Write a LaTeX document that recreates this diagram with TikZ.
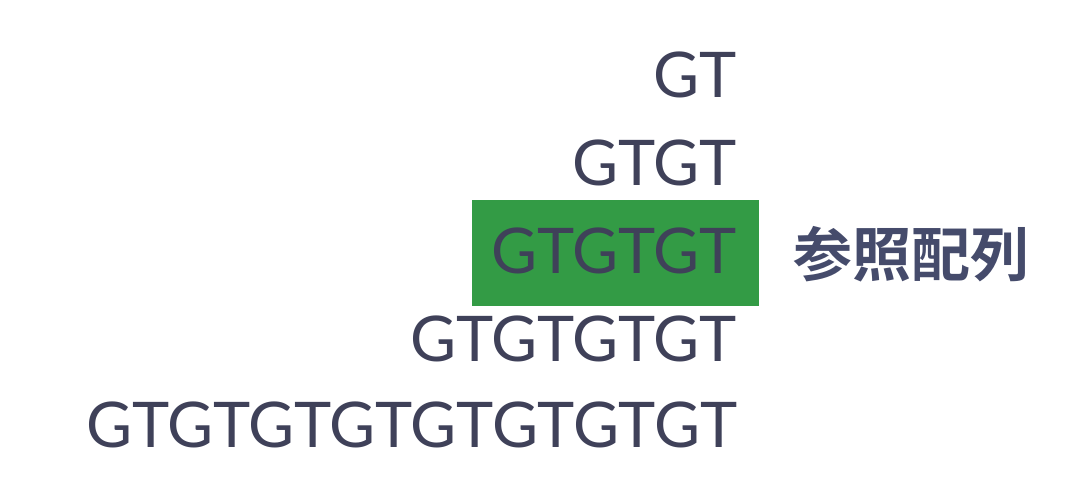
\documentclass[tikz,border=0pt]{standalone}
\usepackage{fontspec}
\setmainfont{Lato}
\newfontfamily\cjk{Noto Sans CJK JP}[BoldFont={* Bold}]
\definecolor{txt}{HTML}{3F4159}
\definecolor{cjktxt}{HTML}{454B6B}
\definecolor{boxgreen}{HTML}{339B45}
\begin{document}
\begin{tikzpicture}[x=1pt,y=-1pt,
  seq/.style={anchor=base east,inner sep=0pt,text=txt,font=\fontsize{63}{63}\selectfont},
  lbl/.style={anchor=west,inner sep=0pt,text=cjktxt,font=\cjk\bfseries\fontsize{59}{59}\selectfont}]
\useasboundingbox (0,0) rectangle (1070,500);
\fill[boxgreen] (472,200) rectangle (759,306);
\node[seq] (r1) at (737,98) {GT};
\node[seq] (r2) at (737,185) {GTGT};
\node[seq] (r3) at (737,273) {GTGTGT};
\node[seq] (r4) at (737,361) {GTGTGTGT};
\node[seq] (r5) at (737,447) {GTGTGTGTGTGTGTGT};
\node[lbl] (ref) at (793,254) {参照配列};
\end{tikzpicture}
\end{document}
